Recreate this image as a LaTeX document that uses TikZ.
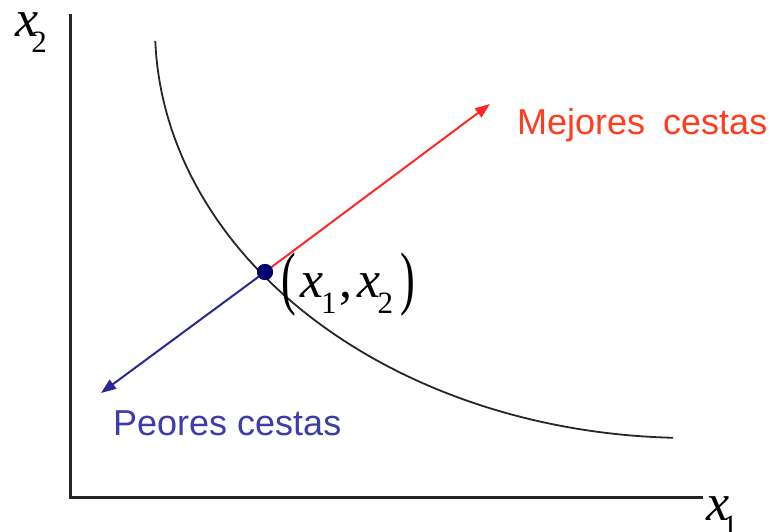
\documentclass[tikz,border=0pt]{standalone}
\usepackage{fontspec}
\setmainfont{Liberation Serif}
\newfontfamily\arialf{Liberation Sans}
\usetikzlibrary{arrows.meta}
\definecolor{redA}{RGB}{255,40,40}
\definecolor{redT}{RGB}{255,60,30}
\definecolor{blueA}{RGB}{40,40,150}
\definecolor{blueT}{RGB}{60,60,170}
\definecolor{dotc}{RGB}{0,0,110}
\newcommand{\xsub}[1]{{\itshape x}\kern-3pt\raisebox{-16pt}{\fontsize{31}{31}\selectfont #1}}
\tikzset{
  axis/.style={line width=3pt, draw=black!85},
  curve/.style={line width=1.8pt, draw=black!85},
  arr/.style={line width=2pt, -{Triangle[length=15pt,width=11pt]}},
  lab/.style={font=\arialf\fontsize{36}{36}\selectfont, inner sep=0pt},
  mlab/.style={font=\fontsize{52}{52}\selectfont, inner sep=0pt},
}
\begin{document}
\begin{tikzpicture}[x=1pt,y=-1pt]
\useasboundingbox (0,0) rectangle (774,532);
\coordinate (top) at (70,14);
\coordinate (O) at (70,497);
\coordinate (right) at (703,497);
\draw[axis, line join=miter] (top) -- (O) -- (right);
\node[mlab, anchor=base west] (x2) at (15,37) {{\itshape x}\kern-7pt\raisebox{-16pt}{\fontsize{31}{31}\selectfont 2}};
\node[mlab, anchor=base west] (x1) at (706,520) {{\itshape x}\kern-7pt\raisebox{-16pt}{\fontsize{31}{31}\selectfont 1}};
\draw[curve] plot[domain=1.8:88.2, samples=90, smooth] ({690-535*cos(\x)}, {28+410*sin(\x)});
\node[circle, fill=dotc, minimum size=16pt, inner sep=0pt] (p) at (265,272) {};
\coordinate (rt) at (490,104);
\coordinate (bt) at (101,393);
\draw[arr, redA] (p.center) -- (rt);
\draw[arr, blueA] (p.center) -- (bt);
\node[circle, fill=dotc, minimum size=16pt, inner sep=0pt] at (p) {};
\node[lab, text=redT, anchor=base west] (mej) at (517,135) {Mejores\hspace{18pt}cestas};
\node[lab, text=blueT, anchor=base west] (peo) at (113,435) {Peores cestas};
\node[mlab, anchor=base west] (pt) at (281,297) {\raisebox{-4pt}{\scalebox{0.85}[1.35]{(}}\kern5pt\xsub{1}\kern3pt,\kern5pt\xsub{2}\kern7pt\raisebox{-4pt}{\scalebox{0.85}[1.35]{)}}};
\end{tikzpicture}
\end{document}
